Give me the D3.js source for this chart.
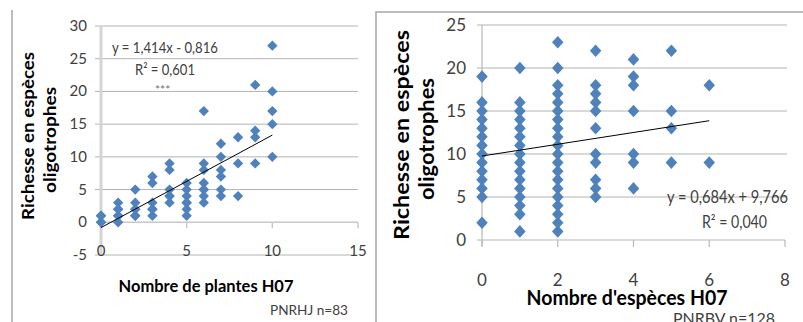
<!DOCTYPE html>
<html>
<head>
<meta charset="utf-8">
<script src="https://cdn.jsdelivr.net/npm/d3@7"></script>
<style>
  html, body { margin: 0; padding: 0; background: #fff; }
  svg { display: block; font-family: "Lato", "Open Sans", sans-serif; }
</style>
</head>
<body>
<svg id="chart" width="803" height="322"></svg>
<script>
// donnees (index = valeur x)
var leftRichness = [
  [0, 0, 1, 1],
  [0, 1, 2, 3, 1, 2],
  [1, 2, 3, 5, 2, 1],
  [1, 2, 3, 6, 7, 2],
  [3, 4, 5, 8, 9, 4],
  [1, 2, 3, 4, 5, 6, 3],
  [3, 4, 5, 6, 8, 9, 17, 5],
  [4, 5, 7, 8, 10, 12],
  [4, 9, 13],
  [9, 13, 14, 21],
  [10, 15, 17, 20, 27]
];
var rightRichness = [
  [2, 5, 6, 7, 8, 9, 10, 11, 12, 13, 14, 15, 16, 19],
  [1, 3, 4, 5, 6, 7, 8, 9, 10, 11, 12, 13, 14, 15, 16, 20],
  [1, 2, 3, 4, 5, 6, 7, 8, 9, 10, 11, 12, 13, 14, 15, 16, 17, 18, 20, 23],
  [5, 6, 7, 9, 10, 13, 15, 16, 17, 18, 22],
  [6, 9, 10, 15, 18, 19, 21],
  [9, 13, 15, 22],
  [9, 18]
];
var leftYTicks = [-5, 0, 5, 10, 15, 20, 25, 30];
var leftXTicks = [0, 5, 10, 15];
var rightYTicks = [0, 5, 10, 15, 20, 25];
var rightXTicks = [0, 2, 4, 6, 8];
var leftFit = { a: 1.414, b: -0.816, xMax: 10 };
var rightFit = { a: 0.684, b: 9.766, xMax: 6 };

var svg = d3.select("#chart");
var blue = "#4f81bd";
var grid = "#b3b3b3";
var tickCol = "#404040";

// cadres
svg.append("line").attr("x1", 12).attr("x2", 12).attr("y1", 10).attr("y2", 322)
  .attr("stroke", "#a6a6a6").attr("stroke-width", 1.5);
svg.append("path").attr("d", "M376,322V12H803")
  .attr("fill", "none").attr("stroke", "#a6a6a6").attr("stroke-width", 1.5);

function flatten(groups) {
  var pts = [];
  groups.forEach(function(col, i) {
    col.forEach(function(v) { pts.push([i, v]); });
  });
  return pts;
}

//////// graphique gauche
var xL = d3.scaleLinear().domain([0, 15]).range([101, 358]);
var yL = d3.scaleLinear().domain([-5, 30]).range([255, 26]);
var gL = svg.append("g");

gL.selectAll("line.grid").data(leftYTicks.filter(function(d) { return d != 0; }))
  .enter().append("line")
  .attr("x1", 95).attr("x2", xL(15))
  .attr("y1", function(d) { return yL(d); }).attr("y2", function(d) { return yL(d); })
  .attr("stroke", grid).attr("stroke-width", 1);
// axe vertical
gL.append("line").attr("x1", xL(0)).attr("x2", xL(0)).attr("y1", yL(30)).attr("y2", yL(-5))
  .attr("stroke", "#d4d4d4").attr("stroke-width", 3);
// axe horizontal a y=0
gL.append("line").attr("x1", xL(0)).attr("x2", xL(15)).attr("y1", yL(0)).attr("y2", yL(0))
  .attr("stroke", "#c8c8c8").attr("stroke-width", 1.5);
gL.selectAll("line.tk").data(leftXTicks).enter().append("line")
  .attr("x1", function(d) { return xL(d); }).attr("x2", function(d) { return xL(d); })
  .attr("y1", yL(0)).attr("y2", yL(0) + 6)
  .attr("stroke", "#c8c8c8").attr("stroke-width", 1.5);

gL.selectAll("text.yt").data(leftYTicks).enter().append("text")
  .attr("x", 87).attr("y", function(d) { return yL(d) + 5; })
  .attr("text-anchor", "end").attr("font-size", 15).attr("fill", tickCol)
  .text(function(d) { return d; });
gL.selectAll("text.xt").data(leftXTicks).enter().append("text")
  .attr("x", function(d) { return xL(d); }).attr("y", 256)
  .attr("text-anchor", "middle").attr("font-size", 15).attr("fill", tickCol)
  .text(function(d) { return d; });

gL.selectAll("path.pt").data(flatten(leftRichness)).enter().append("path")
  .attr("d", d3.symbol(d3.symbolDiamond2, 68))
  .attr("transform", function(d) { return "translate(" + xL(d[0]) + "," + yL(d[1]) + ")"; })
  .attr("fill", blue);

gL.append("line")
  .attr("x1", xL(0)).attr("y1", yL(leftFit.b))
  .attr("x2", xL(leftFit.xMax)).attr("y2", yL(leftFit.a * leftFit.xMax + leftFit.b))
  .attr("stroke", "#000").attr("stroke-width", 1);

gL.append("text").attr("x", 112).attr("y", 53).attr("font-size", 15).attr("fill", tickCol)
  .attr("textLength", 106).attr("lengthAdjust", "spacingAndGlyphs")
  .text("y = 1,414x - 0,816");
gL.append("text").attr("x", 135).attr("y", 75).attr("font-size", 15).attr("fill", tickCol)
  .attr("textLength", 60).attr("lengthAdjust", "spacingAndGlyphs")
  .text("R² = 0,601");
gL.append("text").attr("x", 155).attr("y", 94).attr("font-size", 12).attr("fill", "#707070")
  .text("***");

gL.append("text").attr("transform", "translate(34,136) rotate(-90)")
  .attr("text-anchor", "middle").attr("font-size", 17).attr("font-weight", "bold")
  .attr("textLength", 168).attr("lengthAdjust", "spacingAndGlyphs")
  .text("Richesse en espèces");
gL.append("text").attr("transform", "translate(56,140) rotate(-90)")
  .attr("text-anchor", "middle").attr("font-size", 17).attr("font-weight", "bold")
  .attr("textLength", 106).attr("lengthAdjust", "spacingAndGlyphs")
  .text("oligotrophes");
gL.append("text").attr("x", 206).attr("y", 292)
  .attr("text-anchor", "middle").attr("font-size", 17).attr("font-weight", "bold")
  .attr("textLength", 175).attr("lengthAdjust", "spacingAndGlyphs")
  .text("Nombre de plantes H07");
gL.append("text").attr("x", 270).attr("y", 315).attr("font-size", 14).attr("fill", tickCol)
  .attr("textLength", 78).attr("lengthAdjust", "spacingAndGlyphs")
  .text("PNRHJ n=83");

//////// graphique droit
var xR = d3.scaleLinear().domain([0, 8]).range([482, 785]);
var yR = d3.scaleLinear().domain([0, 25]).range([240, 25]);
var gR = svg.append("g");

gR.selectAll("line.grid").data(rightYTicks.filter(function(d) { return d != 0; }))
  .enter().append("line")
  .attr("x1", 477).attr("x2", 787)
  .attr("y1", function(d) { return yR(d); }).attr("y2", function(d) { return yR(d); })
  .attr("stroke", grid).attr("stroke-width", 1);
gR.append("line").attr("x1", xR(0)).attr("x2", xR(0)).attr("y1", yR(25)).attr("y2", yR(0) + 6)
  .attr("stroke", "#b8b8b8").attr("stroke-width", 1.2);
gR.append("line").attr("x1", 477).attr("x2", xR(8)).attr("y1", yR(0)).attr("y2", yR(0))
  .attr("stroke", "#b8b8b8").attr("stroke-width", 1.2);
gR.selectAll("line.tk").data(rightXTicks).enter().append("line")
  .attr("x1", function(d) { return xR(d); }).attr("x2", function(d) { return xR(d); })
  .attr("y1", yR(0)).attr("y2", yR(0) + 7)
  .attr("stroke", "#b8b8b8").attr("stroke-width", 1.2);

gR.selectAll("text.yt").data(rightYTicks).enter().append("text")
  .attr("x", 466).attr("y", function(d) { return yR(d) + 6; })
  .attr("text-anchor", "end").attr("font-size", 17).attr("fill", tickCol)
  .text(function(d) { return d; });
gR.selectAll("text.xt").data(rightXTicks).enter().append("text")
  .attr("x", function(d) { return xR(d); }).attr("y", 286)
  .attr("text-anchor", "middle").attr("font-size", 17).attr("fill", tickCol)
  .text(function(d) { return d; });

gR.selectAll("path.pt").data(flatten(rightRichness)).enter().append("path")
  .attr("d", d3.symbol(d3.symbolDiamond2, 84))
  .attr("transform", function(d) { return "translate(" + xR(d[0]) + "," + yR(d[1]) + ") scale(1,1.1)"; })
  .attr("fill", blue);

gR.append("line")
  .attr("x1", xR(0)).attr("y1", yR(rightFit.b))
  .attr("x2", xR(rightFit.xMax)).attr("y2", yR(rightFit.a * rightFit.xMax + rightFit.b))
  .attr("stroke", "#000").attr("stroke-width", 1);

gR.append("text").attr("x", 667).attr("y", 203).attr("font-size", 17).attr("fill", tickCol)
  .attr("textLength", 121).attr("lengthAdjust", "spacingAndGlyphs")
  .text("y = 0,684x + 9,766");
gR.append("text").attr("x", 702).attr("y", 228).attr("font-size", 17).attr("fill", tickCol)
  .attr("textLength", 65).attr("lengthAdjust", "spacingAndGlyphs")
  .text("R² = 0,040");

gR.append("text").attr("transform", "translate(409,135) rotate(-90)")
  .attr("text-anchor", "middle").attr("font-size", 20).attr("font-weight", "bold")
  .attr("textLength", 210).attr("lengthAdjust", "spacingAndGlyphs")
  .text("Richesse en espèces");
gR.append("text").attr("transform", "translate(434,139) rotate(-90)")
  .attr("text-anchor", "middle").attr("font-size", 20).attr("font-weight", "bold")
  .attr("textLength", 122).attr("lengthAdjust", "spacingAndGlyphs")
  .text("oligotrophes");
gR.append("text").attr("x", 627).attr("y", 305)
  .attr("text-anchor", "middle").attr("font-size", 20).attr("font-weight", "bold")
  .attr("textLength", 201).attr("lengthAdjust", "spacingAndGlyphs")
  .text("Nombre d'espèces H07");
gR.append("text").attr("x", 673).attr("y", 324).attr("font-size", 16).attr("fill", tickCol)
  .attr("textLength", 102).attr("lengthAdjust", "spacingAndGlyphs")
  .text("PNRBV n=128");
</script>
</body>
</html>
